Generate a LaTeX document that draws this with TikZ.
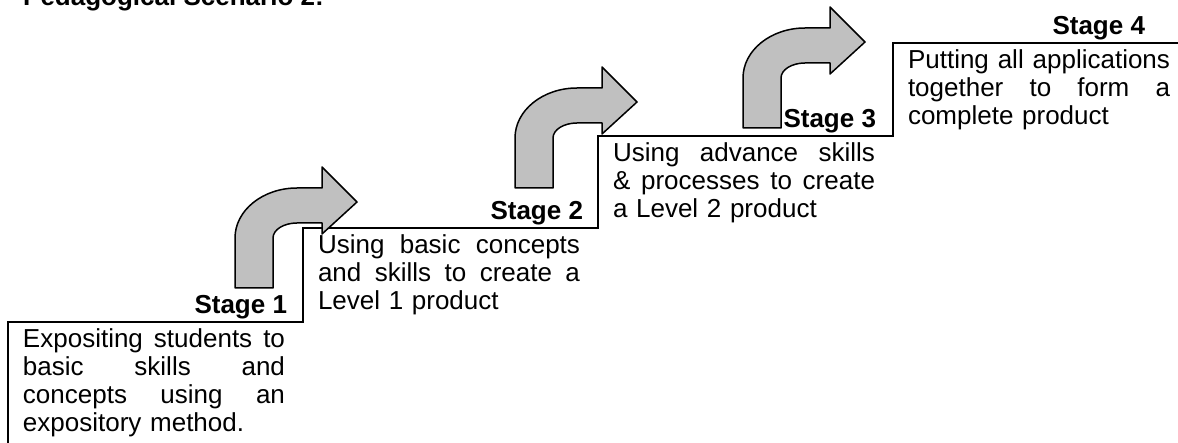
\documentclass[tikz,border=0pt]{standalone}
\usepackage{fontspec}
\setmainfont{Liberation Sans}
\definecolor{arrowgray}{RGB}{192,192,192}
\newlength{\bodywd}
\setlength{\bodywd}{262pt}
\tikzset{
  body/.style={anchor=north west, inner sep=0pt, outer sep=0pt, text width=\bodywd, font=\fontsize{26}{28}\selectfont},
  stagelabel/.style={anchor=base east, inner sep=0pt, outer sep=0pt, font=\fontsize{26}{28}\selectfont\bfseries},
  stepline/.style={line width=2pt, line join=miter},
  bentarrow/.style={draw=black, line width=1.5pt, fill=arrowgray, line join=round},
}
\newcommand{\jline}[1]{\hbox to \bodywd{\rule{0pt}{20pt}#1}}
\newcommand{\lline}[1]{\hbox to \bodywd{\rule{0pt}{20pt}#1\hfil}}
\newcommand{\gap}{\hfill}
\newcommand{\bentshape}{%
  \draw[bentarrow] (0,0) -- (38,0) -- (38,50)
    arc[start angle=180, end angle=90, x radius=24, y radius=15]
    -- (87,65) -- (87,54) -- (122,86) -- (87,121) -- (87,100) -- (62,100)
    arc[start angle=90, end angle=180, x radius=62, y radius=50] -- cycle;}
\begin{document}
\begin{tikzpicture}[x=1pt, y=-1pt]
\useasboundingbox (0,0) rectangle (1178,443);
% title (cut off at the top)
\node[anchor=base west, inner sep=0pt, font=\fontsize{26}{28}\selectfont\bfseries] (title) at (23,6) {Pedagogical Scenario 2:};
% staircase
\coordinate (p0) at (8,443);
\coordinate (p1) at (8,322);
\coordinate (p2) at (303,322);
\coordinate (p3) at (303,228);
\coordinate (p4) at (598,228);
\coordinate (p5) at (598,136);
\coordinate (p6) at (893,136);
\coordinate (p7) at (893,43);
\coordinate (p8) at (1179,43);
\draw[stepline] (p0) -- (p1) -- (p2) -- (p3) -- (p4) -- (p5) -- (p6) -- (p7) -- (p8);
% bent arrows
\begin{scope}[shift={(235,288)}, yscale=-1]\bentshape\end{scope}
\begin{scope}[shift={(515,188)}, yscale=-1]\bentshape\end{scope}
\begin{scope}[shift={(743,128)}, yscale=-1]\bentshape\end{scope}
% stage labels
\node[stagelabel] (s1label) at (287,314) {Stage 1};
\node[stagelabel] (s2label) at (583,220) {Stage 2};
\node[stagelabel] (s3label) at (876,128) {Stage 3};
\node[stagelabel] (s4label) at (1145,35) {Stage 4};
% texts
\node[body] (s1text) at (23,328) {%
  \jline{Expositing\gap students\gap to}
  \jline{basic\gap skills\gap and}
  \jline{concepts\gap using\gap an}
  \lline{expository method.}};
\node[body] (s2text) at (318,234) {%
  \jline{Using\gap basic\gap concepts}
  \jline{and\gap skills\gap to\gap create\gap a}
  \lline{Level 1 product}};
\node[body] (s3text) at (613,142) {%
  \jline{Using\gap advance\gap skills}
  \jline{\&\gap processes\gap to\gap create}
  \lline{a Level 2 product}};
\node[body] (s4text) at (908,49) {%
  \jline{Putting\gap all\gap applications}
  \jline{together\gap to\gap form\gap a}
  \lline{complete product}};
\end{tikzpicture}
\end{document}
